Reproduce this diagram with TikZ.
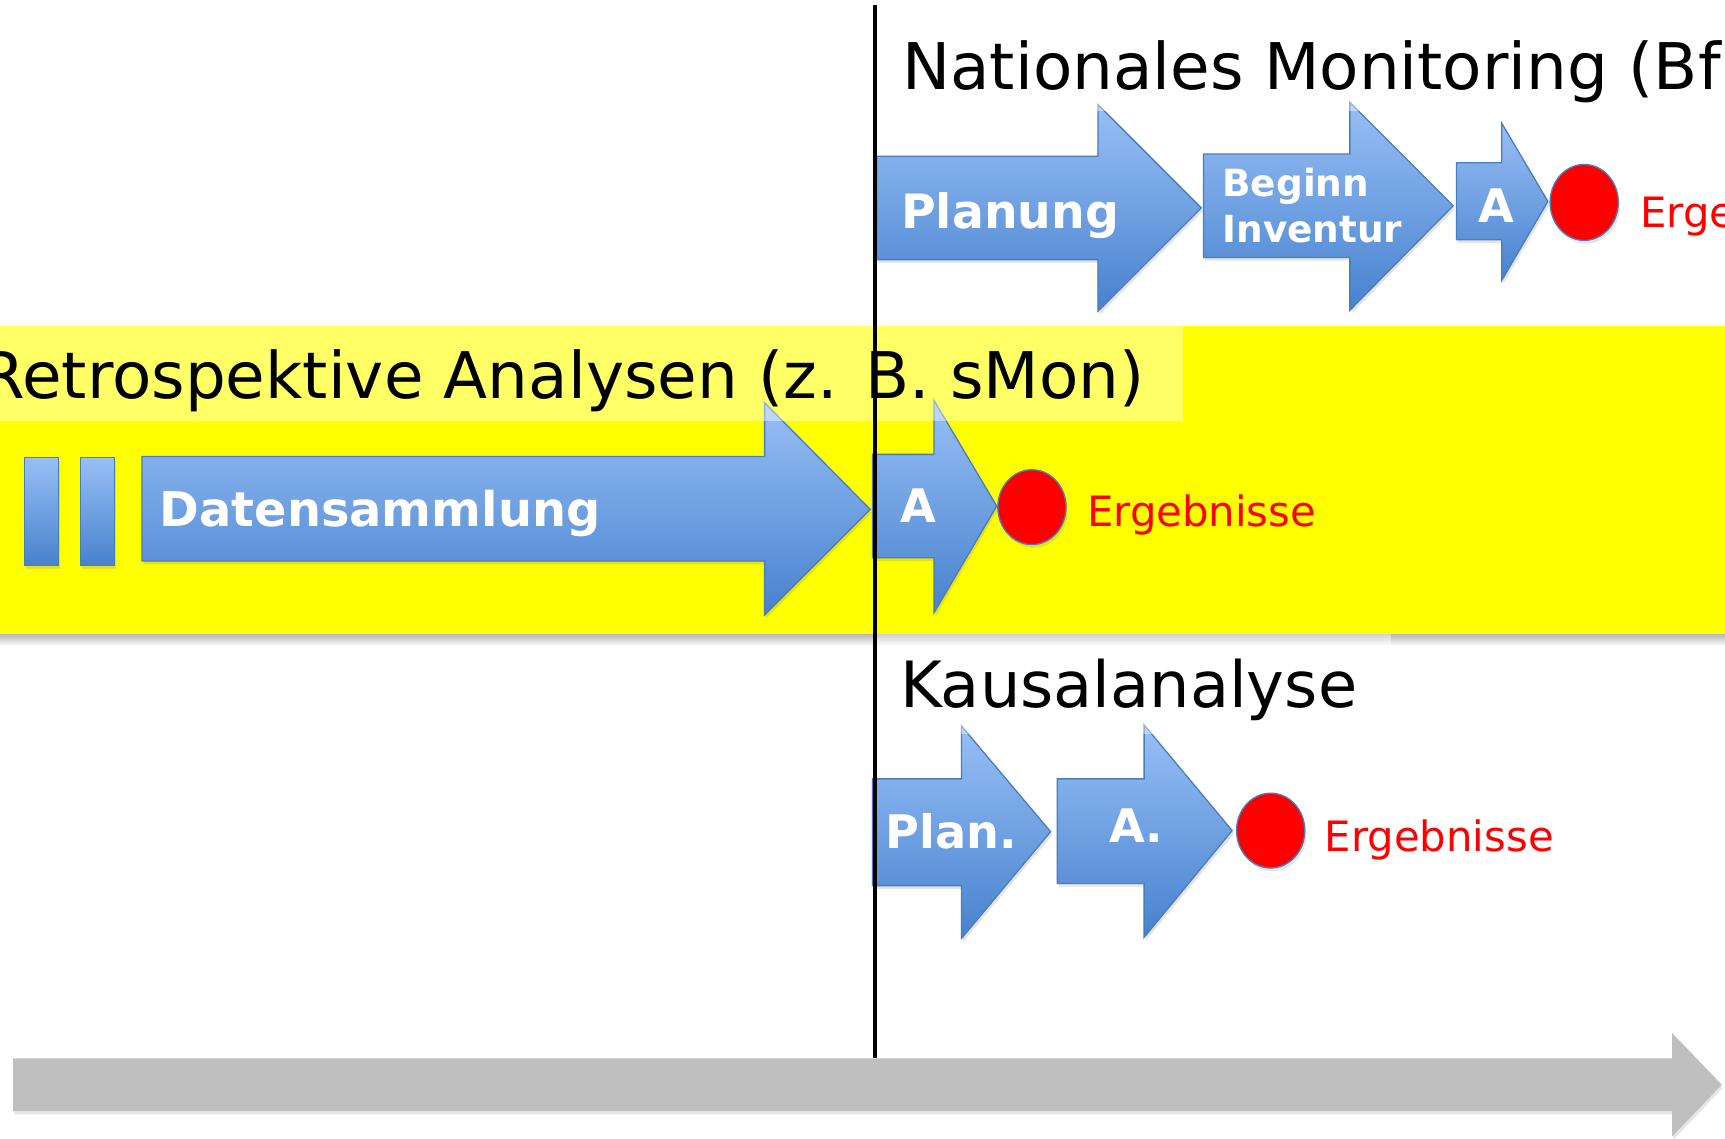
\documentclass[tikz,border=0pt]{standalone}
\usepackage{fontspec}
\setmainfont{DejaVu Sans}
\usetikzlibrary{shadows}

\definecolor{pfeilhell}{HTML}{98BFF6}
\definecolor{pfeildunkel}{HTML}{4782CE}
\definecolor{pfeilrand}{HTML}{4A7EBB}
\definecolor{ergrot}{RGB}{255,0,0}
\definecolor{gelb}{RGB}{255,255,0}
\definecolor{zeitgrau}{HTML}{BFBFBF}

\begin{document}
\begin{tikzpicture}[x=1pt,y=-1pt,
  pfeil/.style={draw=pfeilrand,line width=1.2pt,top color=pfeilhell,bottom color=pfeildunkel,
    drop shadow={opacity=0.22,shadow xshift=1.5pt,shadow yshift=-3pt}},
  punkt/.style={draw=pfeilrand,line width=1.2pt,fill=ergrot,
    drop shadow={opacity=0.22,shadow xshift=1.5pt,shadow yshift=-3pt}},
  kasten/.style={fill=white,fill opacity=0.4},
  titel/.style={anchor=base west,inner sep=0pt,font=\fontsize{58}{70}\selectfont},
  ptext/.style={anchor=base west,inner sep=0pt,text=white,font=\bfseries\fontsize{43}{50}\selectfont},
  ergtext/.style={anchor=base west,inner sep=0pt,text=ergrot,font=\fontsize{38}{46}\selectfont}]
  \clip (0,0) rectangle (1568,1035);
  \fill[white] (0,0) rectangle (1568,1035);
  % yellow band
  \shade[top color=black!30,bottom color=white] (0,576) rectangle (1568,587);
  \fill[gelb] (0,296) rectangle (1568,576);
  % time axis
  \fill[zeitgrau,drop shadow={opacity=0.2,shadow xshift=1pt,shadow yshift=-3pt}]
    (12,962) -- (1520,962) -- (1520,939) -- (1565,986) -- (1520,1033) -- (1520,1010) -- (12,1010) -- cycle;
  % top row: national monitoring
  \draw[pfeil] (797,142) -- (998,142) -- (998,95) -- (1092,189) -- (998,283) -- (998,236) -- (797,236) -- cycle;
  \draw[pfeil] (1094,140) -- (1227,140) -- (1227,93) -- (1321,187) -- (1227,282) -- (1227,234) -- (1094,234) -- cycle;
  \draw[pfeil] (1324,148) -- (1365,148) -- (1365,112) -- (1407,183) -- (1365,255) -- (1365,218) -- (1324,218) -- cycle;
  \draw[punkt] (1440,184) ellipse [x radius=31,y radius=34.5];
  % middle row: retrospective analyses
  \draw[pfeil] (22,416) rectangle (53,514);
  \draw[pfeil] (73,416) rectangle (104,514);
  \draw[pfeil] (129,415) -- (695,415) -- (695,366) -- (791,463) -- (695,559) -- (695,510) -- (129,510) -- cycle;
  \draw[pfeil] (793,413) -- (849,413) -- (849,364) -- (906,460) -- (849,557) -- (849,507) -- (793,507) -- cycle;
  \draw[punkt] (938,461) ellipse [x radius=31,y radius=34];
  % bottom row: causal analysis
  \draw[pfeil] (793,708) -- (874,708) -- (874,660) -- (955,756) -- (874,853) -- (874,805) -- (793,805) -- cycle;
  \draw[pfeil] (961,708) -- (1040,708) -- (1040,659) -- (1120,755) -- (1040,852) -- (1040,803) -- (961,803) -- cycle;
  \draw[punkt] (1155,755) ellipse [x radius=31,y radius=34];
  % title boxes
  \fill[kasten] (797,5) rectangle (1568,101);
  \fill[kasten] (0,296) rectangle (1075,383);
  \fill[kasten] (797,576) rectangle (1264,667);
  % titles
  \node[titel,font=\fontsize{58.5}{70}\selectfont] (natmon) at (820,81) {Nationales Monitoring (Bf};
  \node[titel,font=\fontsize{58.5}{70}\selectfont] (retro) at (-18,362) {Retrospektive Analysen (z. B. sMon)};
  \node[titel] (kausal) at (818,643) {Kausalanalyse};
  % arrow labels
  \node[ptext] (planung) at (819,208) {Planung};
  \node[ptext,align=left,font=\bfseries\fontsize{34}{41}\selectfont] (inventur) at (1111,220) {Beginn\\Inventur};
  \node[ptext,font=\bfseries\fontsize{42}{50}\selectfont] (aoben) at (1344,202) {A};
  \node[ptext,font=\bfseries\fontsize{43.5}{50}\selectfont] (daten) at (145,479) {Datensammlung};
  \node[ptext,font=\bfseries\fontsize{42}{50}\selectfont] (amitte) at (818,475) {A};
  \node[ptext,font=\bfseries\fontsize{42}{50}\selectfont] (plan) at (805,771) {Plan.};
  \node[ptext,font=\bfseries\fontsize{42}{50}\selectfont] (aunten) at (1008,766) {A.};
  % results
  \node[ergtext] (ergoben) at (1491,207) {Ergebnisse};
  \node[ergtext] (ergmitte) at (988,479) {Ergebnisse};
  \node[ergtext] (ergunten) at (1204,774) {Ergebnisse};
  % now
  \draw[line width=3.5pt] (795,5) -- (795,962);
\end{tikzpicture}
\end{document}
